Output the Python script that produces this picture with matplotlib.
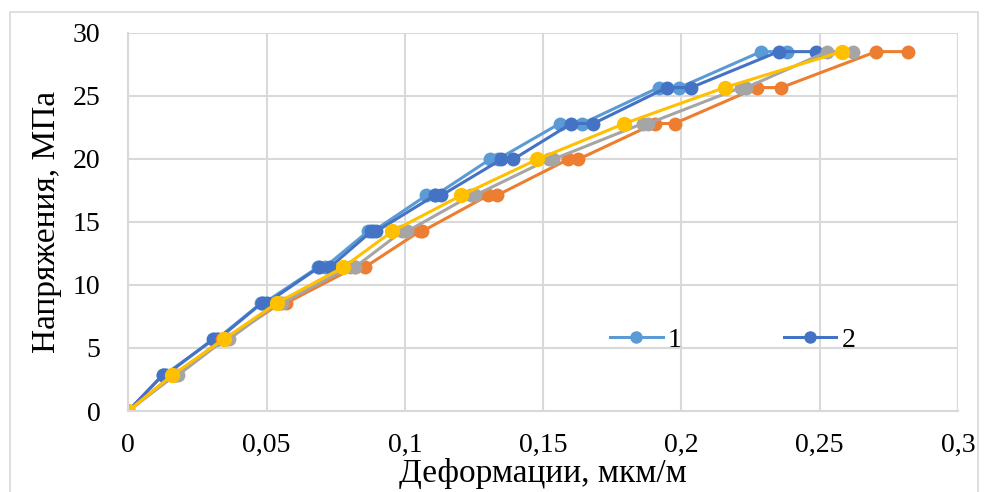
import matplotlib
matplotlib.use("Agg")
import matplotlib.pyplot as plt
from matplotlib.patches import Rectangle

plt.rcParams['font.family'] = ['Liberation Serif', 'DejaVu Serif']

# Stress levels (MPa); each load step is held, so most specimens have two readings per level
stress_pairs = [0, 0, 2.85, 2.85, 5.7, 5.7, 8.55, 8.55, 11.4, 11.4, 14.25, 14.25,
                17.1, 17.1, 19.95, 19.95, 22.8, 22.8, 25.65, 25.65, 28.5, 28.5]
stress_single = [0, 2.85, 5.7, 8.55, 11.4, 14.25, 17.1, 19.95, 22.8, 25.65, 28.5]

# Strains (мкм/м) for each specimen
strain_1 = [0, 0, 0.0125, 0.013, 0.031, 0.032, 0.048, 0.049, 0.0686, 0.071,
            0.0867, 0.0885, 0.1078, 0.111, 0.1307, 0.1335, 0.156, 0.1642,
            0.1918, 0.1993, 0.2288, 0.2381]
strain_2 = [0, 0, 0.0124, 0.0135, 0.0307, 0.0325, 0.0482, 0.050, 0.069, 0.0729,
            0.0879, 0.0897, 0.1108, 0.1132, 0.1349, 0.1391, 0.1602, 0.1682,
            0.1947, 0.2035, 0.2351, 0.2487]
strain_3 = [0, 0, 0.016, 0.017, 0.034, 0.0355, 0.055, 0.057, 0.082, 0.0855,
            0.1054, 0.1063, 0.1301, 0.1333, 0.159, 0.1626, 0.1903, 0.1975,
            0.2274, 0.2361, 0.2704, 0.2821]
strain_4 = [0, 0, 0.017, 0.018, 0.035, 0.0365, 0.054, 0.0555, 0.080, 0.0819,
            0.099, 0.1008, 0.124, 0.1253, 0.152, 0.1535, 0.186, 0.188,
            0.2215, 0.2235, 0.2527, 0.2619]
strain_5 = [0, 0.0159, 0.0346, 0.0536, 0.0777, 0.0955, 0.1204, 0.1478,
            0.1794, 0.2156, 0.2579]

x_ticks = [0, 0.05, 0.1, 0.15, 0.2, 0.25, 0.3]
x_tick_labels = ['0', '0,05', '0,1', '0,15', '0,2', '0,25', '0,3']
y_ticks = [0, 5, 10, 15, 20, 25, 30]

fig = plt.figure(figsize=(9.86, 4.92), dpi=100)
ax = fig.add_axes([0.1301, 0.1646, 0.8415, 0.7689])

style = dict(marker='o', linewidth=2.2, markeredgewidth=0)
ax.plot(strain_1, stress_pairs, color='#5B9BD5', label='1', markersize=10, **style)
ax.plot(strain_2, stress_pairs, color='#4472C4', label='2', markersize=10, **style)
ax.plot(strain_3, stress_pairs, color='#ED7D31', markersize=10, **style)
ax.plot(strain_4, stress_pairs, color='#A5A5A5', markersize=10, **style)
ax.plot(strain_5, stress_single, color='#FFC000', markersize=11, **style)

ax.set_xlim(0, 0.3)
ax.set_ylim(0, 30)
ax.set_xticks(x_ticks)
ax.set_xticklabels(x_tick_labels)
ax.set_yticks(y_ticks)
ax.tick_params(length=0, labelsize=20)
ax.tick_params(axis='x', pad=16)
ax.tick_params(axis='y', pad=20)
ax.grid(True, color='#D9D9D9', linewidth=1.5)
ax.set_axisbelow(True)
for side in ('top', 'right'):
    ax.spines[side].set_visible(False)
for side in ('left', 'bottom'):
    ax.spines[side].set_color('#D9D9D9')
    ax.spines[side].set_linewidth(1.5)
for lbl in ax.get_xticklabels() + ax.get_yticklabels():
    lbl.set_clip_on(False)

ax.set_xlabel('Деформации, мкм/м', fontsize=24, labelpad=0)
ax.set_ylabel('Напряжения, МПа', fontsize=24, labelpad=8)

leg = ax.legend(loc='center left', bbox_to_anchor=(0.5806, 0.1877), ncol=2,
                frameon=False, fontsize=20, borderpad=0, borderaxespad=0,
                columnspacing=3.67, handlelength=1.9, handletextpad=0.18,
                markerscale=0.9)

# light chart-area border
fig.add_artist(Rectangle((10 / 986, -0.1), 968 / 986, 1.1 - 12 / 492,
                         transform=fig.transFigure, fill=False,
                         edgecolor='#D9D9D9', linewidth=1.2))

fig.savefig('out.png', dpi=100)
